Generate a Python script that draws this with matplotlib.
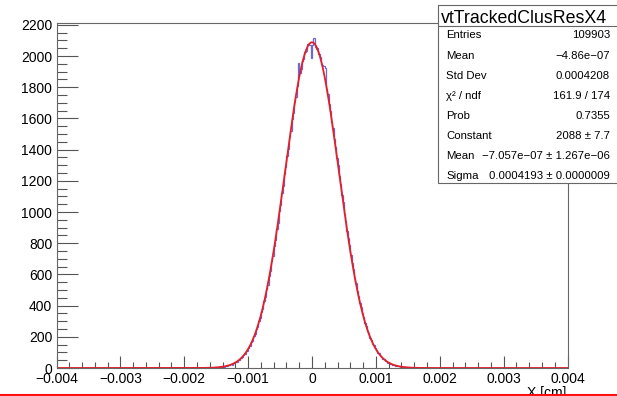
"""
ROOT style residual histogram with gaussian fit
"""

import numpy as np
import matplotlib.pyplot as plt
from matplotlib.patches import Rectangle
from matplotlib.lines import Line2D
from matplotlib.ticker import MultipleLocator, FuncFormatter

plt.rcParams["font.family"] = ["Liberation Sans", "DejaVu Sans"]

# Histogram definition: 400 bins over [-0.004, 0.004]
x_min = -0.004
x_max = 0.004
n_bins = 400
first_filled_bin = 110  # bins below -0.0018 are empty

# counts, bins from -0.0018 to +0.0018 (width 2e-5)
counts_left = [
    1, 0, 1, 0, 1, 1, 0, 2, 1, 2, 1, 3, 2, 3, 4, 3, 5, 6, 5, 8,
    9, 8, 13, 12, 17, 18, 23, 22, 30, 31, 39, 41, 50, 53, 65, 69, 83, 88, 106, 112,
    131, 141, 165, 174, 202, 215, 248, 262, 300, 318, 361, 380, 428, 452, 505, 530,
    590, 620, 683, 716, 785, 820, 890, 930, 1005, 1045, 1121, 1165, 1241, 1286,
    1362, 1405, 1480, 1522, 1597, 1632, 1705, 1740, 1805, 1955, 1890, 1915, 1965,
    1982, 2024, 2030, 2075, 2080, 2070, 1990,
]
counts_right = [
    2070, 2118, 2060, 2048, 2052, 2010, 1996, 1950, 1940, 1935, 1925, 1790, 1755,
    1690, 1650, 1580, 1540, 1466, 1420, 1349, 1300, 1228, 1180, 1108, 1062, 990,
    945, 878, 835, 790, 722, 670, 633, 578, 543, 493, 462, 418, 390, 350, 326, 291,
    270, 239, 222, 195, 181, 157, 146, 126, 117, 99, 93, 78, 73, 60, 57, 46, 44, 35,
    34, 26, 25, 20, 19, 15, 14, 11, 10, 8, 7, 6, 5, 4, 4, 3, 2, 2, 2, 1,
    1, 1, 0, 1, 0, 0, 1, 0, 0, 0,
]

# fit parameters (from the stats box)
fit_constant = 2088
fit_mean = -7.057e-07
fit_sigma = 0.0004193

stat_labels = ["Entries", "Mean", "Std Dev", "\u03c7\u00b2 / ndf", "Prob",
               "Constant", "Mean", "Sigma"]
stat_values = ["109903", "\u22124.86e\u221207", "0.0004208", "161.9 / 174",
               "0.7355", "2088 \u00b1 7.7",
               "\u22127.057e\u221207 \u00b1 1.267e\u221206",
               "0.0004193 \u00b1 0.0000009"]
hist_name = "vtTrackedClusResX4"

W, H = 617, 396


def fx(px):
    return px / W


def fy(py):
    return 1 - py / H


counts = np.zeros(n_bins)
filled = counts_left + counts_right
counts[first_filled_bin:first_filled_bin + len(filled)] = filled
edges = np.linspace(x_min, x_max, n_bins + 1)

fig = plt.figure(figsize=(W / 100, H / 100), dpi=100)
ax = fig.add_axes([fx(56.5), fy(368), fx(567.5) - fx(56.5), fy(22.5) - fy(368)])

ax.stairs(counts, edges, color="#6a6ad2", linewidth=0.9)

xf = np.linspace(x_min, x_max, 2000)
yf = fit_constant * np.exp(-0.5 * ((xf - fit_mean) / fit_sigma) ** 2)
ax.plot(xf, yf, color="#e3202a", linewidth=1.3)

ax.set_xlim(x_min, x_max)
ax.set_ylim(0, 2215)

for side in ["top", "right", "left", "bottom"]:
    ax.spines[side].set_color("#666666")
    ax.spines[side].set_linewidth(0.8)

ax.xaxis.set_major_locator(MultipleLocator(0.001))
ax.xaxis.set_minor_locator(MultipleLocator(0.0002))
ax.yaxis.set_major_locator(MultipleLocator(200))
ax.yaxis.set_minor_locator(MultipleLocator(50))
ax.xaxis.set_major_formatter(FuncFormatter(lambda v, p: ("%g" % round(v, 4)).replace("-", "\u2212")))
ax.tick_params(axis="both", which="both", direction="in", color="#555555",
               labelsize=10, pad=3, width=0.8)
ax.tick_params(axis="x", which="major", length=9)
ax.tick_params(axis="x", which="minor", length=4.5)
ax.tick_params(axis="y", which="major", length=15)
ax.tick_params(axis="y", which="minor", length=7.5)

fig.text(fx(566), fy(397), "X [cm]", ha="right", va="baseline", fontsize=10)

# stats box
box = Rectangle((fx(438), fy(183)), fx(640) - fx(438), fy(5) - fy(183),
                transform=fig.transFigure, facecolor="white",
                edgecolor="#666666", linewidth=0.8, zorder=5)
fig.add_artist(box)
fig.add_artist(Line2D([fx(438), fx(640)], [fy(25.5), fy(25.5)],
                      color="#666666", linewidth=0.8, zorder=6))
fig.text(fx(524), fy(23), hist_name, ha="center", va="baseline",
         fontsize=12.8, zorder=7)
for i in range(len(stat_labels)):
    base = 38.5 + 20.1 * i
    fig.text(fx(446), fy(base), stat_labels[i], ha="left", va="baseline",
             fontsize=8.2, zorder=7)
    fig.text(fx(610), fy(base), stat_values[i], ha="right", va="baseline",
             fontsize=8.2, zorder=7)

# red strip along the bottom edge of the screenshot
fig.add_artist(Line2D([0, 1], [fy(394.5), fy(394.5)], color="#ff1010",
                      linewidth=1.5, zorder=8))

plt.savefig("out.png", dpi=100)
plt.close()
